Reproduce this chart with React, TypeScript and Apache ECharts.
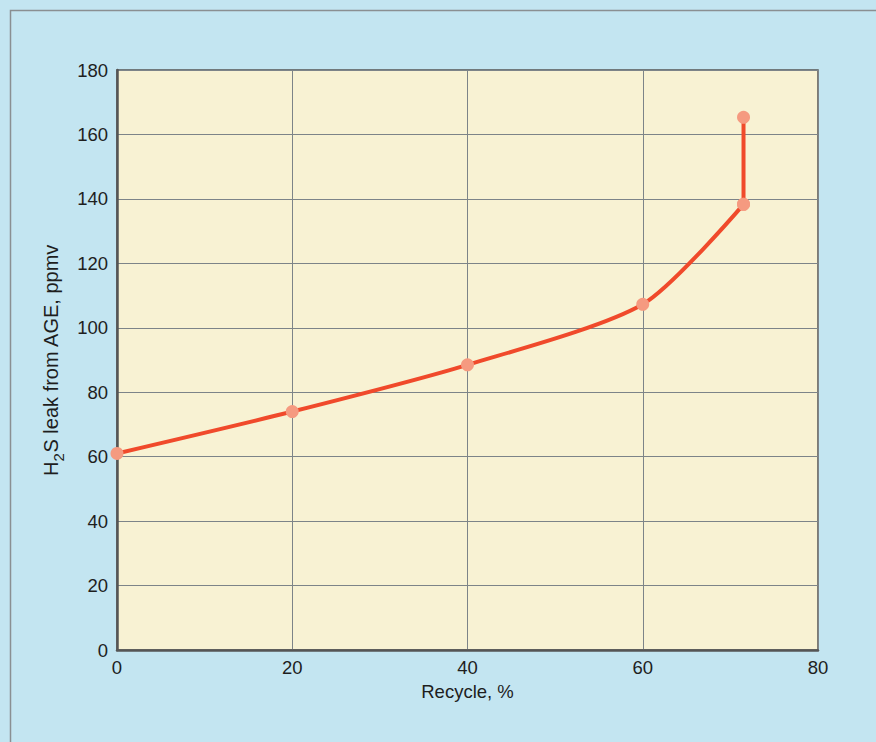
import React, { useEffect, useRef } from "react";
import * as echarts from "echarts";

const recycle = [0, 20, 40, 60, 71.5];
const h2sLeak = [61, 74, 88.5, 107.3, 138.3];
const verticalX = [71.5, 71.5];
const verticalY = [138.3, 165.3];
const xTicks = [0, 20, 40, 60, 80];
const yTicks = [0, 20, 40, 60, 80, 100, 120, 140, 160, 180];

export default function App() {
  const ref = useRef<HTMLDivElement>(null);
  useEffect(() => {
    if (!ref.current) return;
    const chart = echarts.init(ref.current, null, { renderer: "svg" });
    const font = "'Liberation Sans', Arial, Helvetica, sans-serif";
    const curve = recycle.map((x, i) => [x, h2sLeak[i]]);
    const vert = verticalX.map((x, i) => [x, verticalY[i]]);
    chart.setOption({
      animation: false,
      backgroundColor: "#c3e5f1",
      graphic: [
        {
          type: "rect",
          shape: { x: 10.5, y: 10.5, width: 900, height: 800 },
          style: { fill: "none", stroke: "#8a8f92", lineWidth: 1.5 },
          z: 100,
        },
      ],
      grid: {
        left: 117,
        top: 70,
        right: 58,
        bottom: 92,
        show: true,
        backgroundColor: "#f8f2d3",
        borderColor: "#555",
        borderWidth: 1.5,
      },
      xAxis: {
        type: "value",
        min: xTicks[0],
        max: xTicks[xTicks.length - 1],
        interval: 20,
        name: "Recycle, %",
        nameLocation: "middle",
        nameGap: 28,
        nameTextStyle: { color: "#1e1e1e", fontSize: 18.5, fontFamily: font },
        axisLine: { show: true, lineStyle: { color: "#555", width: 2.5 } },
        axisTick: { show: false },
        axisLabel: { color: "#1e1e1e", fontSize: 18.5, fontFamily: font, margin: 8 },
        splitLine: { show: true, lineStyle: { color: "#7d8488", width: 1 } },
      },
      yAxis: {
        type: "value",
        min: yTicks[0],
        max: yTicks[yTicks.length - 1],
        interval: 20,
        name: "{m|H}{sub|2}{m|S leak from AGE, ppmv}",
        nameLocation: "middle",
        nameGap: 52,
        nameRotate: 90,
        nameTextStyle: {
          color: "#1e1e1e",
          fontSize: 20,
          fontFamily: font,
          rich: {
            m: { fontSize: 20, fontFamily: font, color: "#1e1e1e", verticalAlign: "top", lineHeight: 22 },
            sub: { fontSize: 15, fontFamily: font, color: "#1e1e1e", verticalAlign: "top", lineHeight: 17, padding: [10, 0, 0, 0] },
          },
        },
        axisLine: { show: true, lineStyle: { color: "#555", width: 2.5 } },
        axisTick: { show: false },
        axisLabel: { color: "#1e1e1e", fontSize: 18.5, fontFamily: font, margin: 9 },
        splitLine: { show: true, lineStyle: { color: "#7d8488", width: 1 } },
      },
      series: [
        {
          type: "line",
          data: curve,
          smooth: 0.25,
          symbol: "circle",
          symbolSize: 13,
          lineStyle: { color: "#f04a2b", width: 4 },
          itemStyle: { color: "#f59a80" },
          z: 3,
        },
        {
          type: "line",
          data: vert,
          symbol: "circle",
          symbolSize: 13,
          lineStyle: { color: "#f04a2b", width: 4 },
          itemStyle: { color: "#f59a80" },
          z: 2,
        },
      ],
    });
    return () => chart.dispose();
  }, []);
  return (
    <div style={{ position: "fixed", left: 0, top: 0, width: 876, height: 742, background: "#fff" }}>
      <div ref={ref} style={{ width: 876, height: 742 }} />
    </div>
  );
}
